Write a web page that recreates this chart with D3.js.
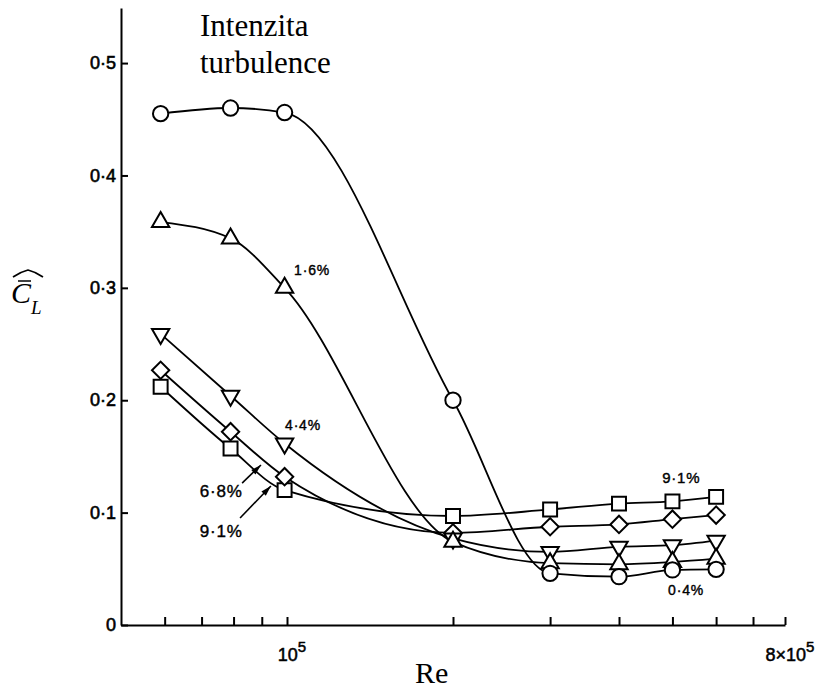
<!DOCTYPE html>
<html>
<head>
<meta charset="utf-8">
<script src="https://cdn.jsdelivr.net/npm/d3@7"></script>
<style>
  body { margin: 0; background: #fff; }
  svg { display: block; background: #fff; }
</style>
</head>
<body>
<svg id="chart" width="821" height="695"></svg>
<script>
// Reynolds numbers where every series was measured
const reValues = [5.9e4, 7.9e4, 9.9e4, 2e5, 3e5, 4e5, 5e5, 6e5];

// mean lift coefficient, one list per turbulence intensity
const cl04 = [0.455, 0.460, 0.456, 0.200, 0.046, 0.043, 0.049, 0.0495];
const cl16 = [0.3585, 0.344, 0.300, 0.074, 0.055, 0.054, 0.056, 0.059];
const cl44 = [0.259, 0.204, 0.1615, 0.077, 0.065, 0.0696, 0.071, 0.075];
const cl68 = [0.2267, 0.172, 0.132, 0.082, 0.0874, 0.0895, 0.0942, 0.0978];
const cl91 = [0.212, 0.157, 0.120, 0.097, 0.1028, 0.108, 0.110, 0.114];

const seriesNames = ["9.1%", "6.8%", "4.4%", "1.6%", "0.4%"];
const seriesValues = [cl91, cl68, cl44, cl16, cl04];
const seriesSymbols = ["square", "diamond", "triangleDown", "triangle", "circle"];

// axes
const xTicks = [6e4, 7e4, 8e4, 9e4, 1e5, 2e5, 3e5, 4e5, 5e5, 6e5, 7e5, 8e5];
const xTickLabels = [
  {value: 1e5, base: "10", exp: "5"},
  {value: 8e5, base: "8×10", exp: "5"}
];
const yTicks = [0, 0.1, 0.2, 0.3, 0.4, 0.5];

// curve labels (anchored in data units)
const labelText = ["1·6%", "4·4%", "6·8%", "9·1%", "9·1%", "0·4%"];
const labelRe = [1.03e5, 9.92e4, 6.95e4, 6.95e4, 4.79e5, 4.91e5];
const labelCl = [0.311, 0.1735, 0.1139, 0.0783, 0.1263, 0.0267];

// pointer arrows for the two crowded curves
const arrowFromRe = [8.29e4, 8.22e4];
const arrowFromCl = [0.1263, 0.0952];
const arrowToRe = [8.97e4, 9.35e4];
const arrowToCl = [0.1424, 0.1237];

const svg = d3.select("svg#chart");

const x = d3.scaleLog()
  .domain([5e4, 8e5])
  .range([121, 785]);

const y = d3.scaleLinear()
  .domain([0, 0.549])
  .range([625, 8]);

const sansFont = "'Liberation Sans', Arial, sans-serif";
const serifFont = "'Liberation Serif', 'Times New Roman', serif";

// Axes
const yAxis = d3.axisLeft(y)
  .tickValues(yTicks)
  .tickSizeInner(-7)
  .tickSizeOuter(0)
  .tickPadding(5)
  .tickFormat(d => d === 0 ? "0" : d3.format(".1f")(d).replace(".", "·"));

const yAxisG = svg.append("g")
  .attr("transform", "translate(121,0)")
  .call(yAxis);

yAxisG.selectAll("text")
  .attr("font-family", sansFont)
  .attr("font-size", 18)
  .attr("fill", "#000")
  .attr("stroke", "#000")
  .attr("stroke-width", 0.6);

const xAxis = d3.axisBottom(x)
  .tickValues(xTicks)
  .tickSizeInner(-8)
  .tickSizeOuter(0)
  .tickFormat("");

const xAxisG = svg.append("g")
  .attr("transform", "translate(0,625)")
  .call(xAxis);

[yAxisG, xAxisG].forEach(g => {
  g.select(".domain").attr("stroke", "#000").attr("stroke-width", 2);
  g.selectAll(".tick line").attr("stroke", "#000").attr("stroke-width", 2);
});

const xLabels = svg.append("g")
  .attr("font-family", sansFont)
  .attr("font-size", 18)
  .attr("stroke", "#000")
  .attr("stroke-width", 0.5)
  .selectAll("text")
  .data(xTickLabels)
  .enter()
  .append("text")
  .attr("x", d => x(d.value) + 5)
  .attr("y", 661)
  .attr("text-anchor", "middle");

xLabels.append("tspan").text(d => d.base);
xLabels.append("tspan")
  .attr("dy", -9)
  .attr("font-size", 15)
  .text(d => d.exp);

// Curves
const line = d3.line()
  .x((d, i) => x(reValues[i]))
  .y(d => y(d))
  .curve(d3.curveMonotoneX);

svg.append("g")
  .selectAll("path")
  .data(seriesValues)
  .enter()
  .append("path")
  .attr("d", line)
  .attr("fill", "none")
  .attr("stroke", "#000")
  .attr("stroke-width", 1.8);

// Markers
const symbolFor = {
  circle: d3.symbol().type(d3.symbolCircle).size(185),
  square: d3.symbol().type(d3.symbolSquare).size(195),
  diamond: d3.symbol().type(d3.symbolSquare).size(150),
  triangle: d3.symbol().type(d3.symbolTriangle).size(130),
  triangleDown: d3.symbol().type(d3.symbolTriangle).size(130)
};
const rotateFor = {diamond: 45, triangleDown: 180};

seriesValues.forEach(function(values, s) {
  let kind = seriesSymbols[s];
  svg.append("g")
    .attr("class", "markers")
    .attr("data-series", seriesNames[s])
    .selectAll("path")
    .data(values)
    .enter()
    .append("path")
    .attr("d", symbolFor[kind]())
    .attr("transform", (d, i) =>
      "translate(" + x(reValues[i]) + "," + y(d) + ") rotate(" + (rotateFor[kind] || 0) + ")")
    .attr("fill", "#fff")
    .attr("stroke", "#000")
    .attr("stroke-width", 2);
});

// Curve labels
const labelSize = i => (i === 2 || i === 3) ? 17 : (i === 4 ? 15 : 14);

svg.append("g")
  .attr("font-family", sansFont)
  .attr("stroke", "#000")
  .attr("stroke-width", 0.4)
  .selectAll("text")
  .data(labelText)
  .enter()
  .append("text")
  .attr("x", (d, i) => x(labelRe[i]))
  .attr("y", (d, i) => y(labelCl[i]))
  .attr("font-size", (d, i) => labelSize(i))
  .attr("letter-spacing", 0.8)
  .text(d => d);

// Arrows
svg.append("defs")
  .append("marker")
  .attr("id", "arrowhead")
  .attr("viewBox", "0 -4 12 8")
  .attr("refX", 12)
  .attr("refY", 0)
  .attr("markerWidth", 11)
  .attr("markerHeight", 7)
  .attr("markerUnits", "userSpaceOnUse")
  .attr("orient", "auto")
  .append("path")
  .attr("d", "M0,-3.5L12,0L0,3.5Z")
  .attr("fill", "#000");

svg.append("g")
  .selectAll("line")
  .data(arrowFromRe)
  .enter()
  .append("line")
  .attr("x1", (d, i) => x(arrowFromRe[i]))
  .attr("y1", (d, i) => y(arrowFromCl[i]))
  .attr("x2", (d, i) => x(arrowToRe[i]))
  .attr("y2", (d, i) => y(arrowToCl[i]))
  .attr("stroke", "#000")
  .attr("stroke-width", 1.6)
  .attr("marker-end", "url(#arrowhead)");

// Titles
const title = svg.append("text")
  .attr("font-family", serifFont)
  .attr("font-size", 31)
  .attr("fill", "#000");
title.append("tspan").attr("x", 200).attr("y", 36).text("Intenzita");
title.append("tspan").attr("x", 200).attr("y", 73).text("turbulence");

svg.append("text")
  .attr("x", 415)
  .attr("y", 683)
  .attr("font-family", serifFont)
  .attr("font-size", 30)
  .text("Re");

// y label: mean C_L with a wide hat
const yLabel = svg.append("g").attr("class", "ylabel");
yLabel.append("text")
  .attr("x", 11)
  .attr("y", 303)
  .attr("font-family", serifFont)
  .attr("font-style", "italic")
  .attr("font-size", 30)
  .text("C");
yLabel.append("text")
  .attr("x", 31)
  .attr("y", 314)
  .attr("font-family", serifFont)
  .attr("font-style", "italic")
  .attr("font-size", 19)
  .text("L");
yLabel.append("path")
  .attr("d", "M13,277 Q20,272 28,270 Q36,272 43,277")
  .attr("fill", "none")
  .attr("stroke", "#000")
  .attr("stroke-width", 1.6)
  .attr("stroke-linejoin", "round");
yLabel.append("line")
  .attr("x1", 18)
  .attr("x2", 31)
  .attr("y1", 281)
  .attr("y2", 281)
  .attr("stroke", "#000")
  .attr("stroke-width", 1.5);
</script>
</body>
</html>
